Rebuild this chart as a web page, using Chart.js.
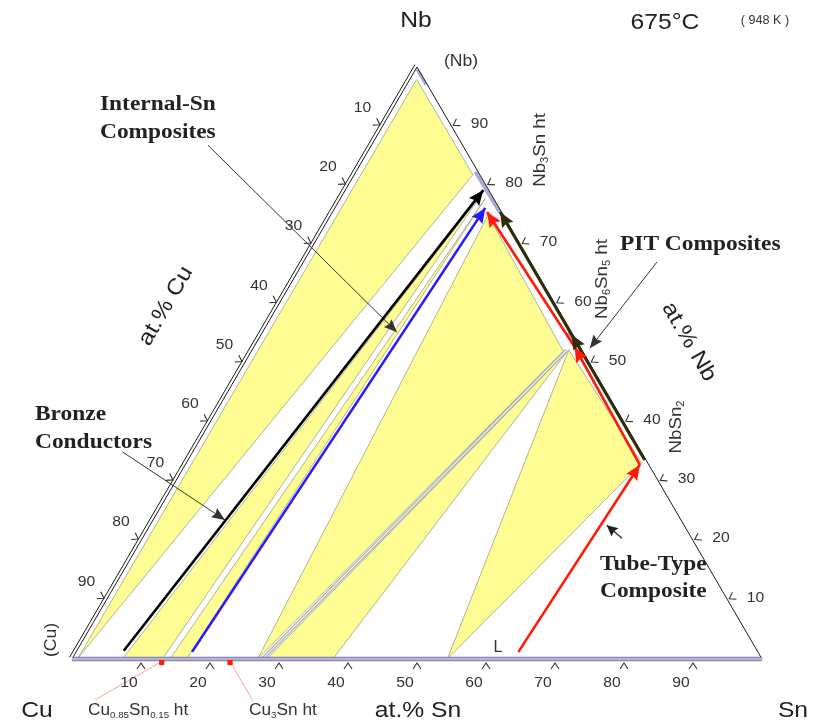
<!DOCTYPE html>
<html>
<head>
<meta charset="utf-8">
<title>Cu-Nb-Sn 675°C</title>
<script src="https://cdn.jsdelivr.net/npm/chart.js@4.4.1/dist/chart.umd.min.js"></script>
<style>
html,body{margin:0;padding:0;background:#ffffff;}
canvas{display:block;}
</style>
</head>
<body>
<canvas id="chart" width="819" height="721"></canvas>
<script>
// ---- Data: compositions as [at.% Sn, at.% Nb]; at.% Cu = 100 - Sn - Nb ----
const tickValues = [10, 20, 30, 40, 50, 60, 70, 80, 90];
const triangleEdge = [[0, 0], [100, 0], [0, 100], [0, 0]];
// phase fields (yellow)
const fieldNbNb3SnCu = [[1.0, 97.9], [17.2, 81.8], [0.8, 0.2]];
const fieldNb3SnCu = [[7.3, 0], [13.1, 0], [20.2, 79.3]];
const fieldNb3SnBronze = [[14.2, 0], [16.6, 0], [21.0, 77.8]];
const fieldNb3SnNb6Sn5 = [[26.9, 0], [22.8, 75.0], [45.2, 52.0]];
const fieldNb6Sn5Cu = [[28.2, 0], [37.8, 0], [45.8, 52.0]];
const fieldNb6Sn5NbSn2L = [[54.4, 0], [45.9, 52.2], [66.0, 33.1]];
const tieLineNb6Sn5 = [[27.6, 0], [45.6, 52.2]];
// single-phase ranges (lavender)
const phaseNb = [[0.2, 99.6], [2.8, 97.0]];
const phaseNb3Sn = [[17.3, 82.3], [24.3, 75.4]];
const phaseNb6Sn5 = [[44.3, 55.2], [46.3, 53.0]];
const phaseCuSnSide = [[0, 0], [100, 0]];
// reaction paths
const pathBronze = [[6.8, 1.4], [20.0, 79.2]];
const pathInternalSn = [[16.8, 1.2], [21.8, 76.2]];
const pathTube = [[64.1, 1.2], [65.9, 32.8]];
const pathPIT = [[65.9, 32.8], [46.5, 52.7], [22.4, 75.5]];
const pathPITEdge = [[66.2, 33.6], [45.0, 54.8], [24.3, 75.5]];
// marked Cu-Sn phases
const bronzePhases = [[13.3, -0.6], [23.2, -0.6]];
// label leaders
const leaderInternalSn = [[-23.7, 86.8], [19.5, 55.2]];
const leaderBronze = [[-10.2, 35.0], [10.4, 23.5]];
const leaderPIT = [[51.25, 67.06], [48.8, 52.5]];
const leaderTube = [[69.5, 20.4], [66.2, 22.6]];
const leaderCu085 = [[13.2, -0.4], [6.8, -6.9]];
const leaderCu3Sn = [[23.1, -0.4], [29.8, -7.1]];

// ---- geometry: ternary -> cartesian (x = Sn + Nb/2, y = Nb) ----
const W = 819, H = 721;
const X0 = 72, PXU = 6.9, Y0 = 659, PYU = 5.92;
const toXY = pts => pts.map(([sn, nb]) => ({x: sn + nb / 2, y: nb}));

const SANS = '"Liberation Sans", Arial, sans-serif';
const SERIF = '"Liberation Serif", "Times New Roman", serif';
const YELLOW = '#fdfd94';
const LAV = '#a9a9d6';

function field(pts) {
  return {data: toXY([...pts, pts[0]]), fill: 'shape', backgroundColor: YELLOW,
    borderColor: '#a0a08c', borderWidth: 0.8, order: 20};
}
function line(pts, color, width, order, extra) {
  return Object.assign({data: toXY(pts), fill: false, borderColor: color, backgroundColor: color,
    borderWidth: width, order: order}, extra || {});
}

const datasets = [
  // arrows / paths (top)
  line(pathBronze, '#000000', 2.6, 1, {heads: [1], headLen: 15, headW: 6.5}),
  line(pathInternalSn, '#2a1aff', 2.6, 1, {heads: [1], headLen: 15, headW: 6.5}),
  line(pathPIT, '#ff1a0a', 2.6, 1, {heads: [1, 2], headLen: 15, headW: 6.5}),
  line(pathTube, '#ff1a0a', 2.6, 1, {heads: [1], headLen: 15, headW: 6.5}),
  line(pathPITEdge, '#2e2e08', 3.0, 2, {heads: [1, 2], headLen: 15, headW: 6.5}),
  line(leaderInternalSn, '#333333', 1, 1, {heads: [1], headLen: 13, headW: 5.5}),
  line(leaderBronze, '#333333', 1, 1, {heads: [1], headLen: 13, headW: 5.5}),
  line(leaderPIT, '#333333', 1, 1, {heads: [1], headLen: 13, headW: 5.5}),
  line(leaderTube, '#222222', 1.2, 1, {heads: [1], headLen: 11, headW: 5.5}),
  line(leaderCu085, '#ff8888', 0.8, 1),
  line(leaderCu3Sn, '#ff8888', 0.8, 1),
  {data: toXY(bronzePhases), showLine: false, pointRadius: 3, pointStyle: 'rect',
    pointBackgroundColor: '#ff1a0a', pointBorderColor: '#ff1a0a', borderColor: '#ff1a0a', order: 0},
  // triangle edges and single-phase ranges
  line(triangleEdge, '#1a1a1a', 1, 6),
  line(phaseCuSnSide, '#7e7eaa', 4.5, 5),
  line(phaseCuSnSide, '#b3b3dc', 2.5, 4),
  line(phaseNb, LAV, 3, 7),
  line(phaseNb3Sn, LAV, 3.5, 7),
  line(phaseNb6Sn5, LAV, 3.5, 7),
  // tie line (double gray)
  line(tieLineNb6Sn5, '#f2f2f2', 1.2, 8),
  line(tieLineNb6Sn5, '#a8a8a8', 3.4, 9),
  // yellow fields
  field(fieldNbNb3SnCu),
  field(fieldNb3SnCu),
  field(fieldNb3SnBronze),
  field(fieldNb3SnNb6Sn5),
  field(fieldNb6Sn5Cu),
  field(fieldNb6Sn5NbSn2L)
];

function drawText(ctx, parts, x, y, o) {
  const size = o.size, fam = o.family || SANS, weight = o.weight || 'normal';
  if (typeof parts === 'string') parts = [[parts, 0]];
  ctx.save();
  ctx.translate(x, y);
  if (o.rot) ctx.rotate(o.rot * Math.PI / 180);
  ctx.scale(o.sx || 1, 1);
  ctx.fillStyle = o.color || '#222222';
  ctx.textBaseline = 'middle';
  ctx.textAlign = 'left';
  const fontOf = sub => `${weight} ${sub ? Math.round(size * 0.58) : size}px ${fam}`;
  let w = 0;
  parts.forEach(([s, sub]) => { ctx.font = fontOf(sub); w += ctx.measureText(s).width; });
  let cx = o.align === 'left' ? 0 : (o.align === 'right' ? -w : -w / 2);
  parts.forEach(([s, sub]) => {
    ctx.font = fontOf(sub);
    ctx.fillText(s, cx, sub ? size * 0.3 : 0);
    cx += ctx.measureText(s).width;
  });
  ctx.restore();
}

function arrowHead(ctx, x, y, ang, len, hw, color) {
  ctx.save();
  ctx.translate(x, y);
  ctx.rotate(ang);
  ctx.beginPath();
  ctx.moveTo(0, 0);
  ctx.lineTo(-len, hw);
  ctx.lineTo(-len * 0.86, 0);
  ctx.lineTo(-len, -hw);
  ctx.closePath();
  ctx.fillStyle = color;
  ctx.fill();
  ctx.restore();
}

const ternaryPlugin = {
  id: 'ternary',
  afterDatasetsDraw(chart) {
    const ctx = chart.ctx;
    const sx = chart.scales.x, sy = chart.scales.y;
    const P = (sn, nb) => ({x: sx.getPixelForValue(sn + nb / 2), y: sy.getPixelForValue(nb)});

    // arrowheads
    chart.data.datasets.forEach((ds, i) => {
      if (!ds.heads) return;
      const meta = chart.getDatasetMeta(i);
      ds.heads.forEach(k => {
        const a = meta.data[k - 1], b = meta.data[k];
        arrowHead(ctx, b.x, b.y, Math.atan2(b.y - a.y, b.x - a.x), ds.headLen, ds.headW, ds.borderColor);
      });
    });

    // outer Cu axis line (parallel to the Cu-Nb side)
    ctx.save();
    ctx.strokeStyle = '#1a1a1a';
    ctx.lineWidth = 1;
    const o1 = P(-0.5, 0.3), o2 = P(-0.5, 100.4);
    ctx.beginPath(); ctx.moveTo(o1.x, o1.y); ctx.lineTo(o2.x, o2.y); ctx.stroke();

    // ticks: chevrons pointing into the triangle
    const chevron = (p, nx, ny, off) => {
      const ax = p.x + nx * off, ay = p.y + ny * off;
      const px = -ny, py = nx;
      ctx.beginPath();
      ctx.moveTo(ax + nx * 6 + px * 4, ay + ny * 6 + py * 4);
      ctx.lineTo(ax, ay);
      ctx.lineTo(ax + nx * 6 - px * 4, ay + ny * 6 - py * 4);
      ctx.stroke();
    };
    ctx.strokeStyle = '#333333';
    ctx.lineWidth = 1.1;
    const s3 = Math.sqrt(3) / 2;
    tickValues.forEach(t => {
      // at.% Sn (bottom)
      const pb = P(t, 0);
      chevron(pb, 0, 1, 4);
      drawText(ctx, String(t), pb.x - 12, pb.y + 24, {size: 14, sx: 1.12, color: '#333333'});
      // at.% Cu (left side)
      const pl = P(0, 100 - t);
      chevron(pl, -s3, -0.5, 3);
      drawText(ctx, String(t), pl.x - 20, pl.y - 18, {size: 14, sx: 1.12, color: '#333333'});
      // at.% Nb (right side)
      const pr = P(100 - t, t);
      chevron(pr, s3, -0.5, 2);
      drawText(ctx, String(t), pr.x + 28, pr.y - 2, {size: 14, sx: 1.12, color: '#333333'});
    });
    ctx.restore();

    // labels
    const big = {size: 22, sx: 1.12, color: '#222222'};
    drawText(ctx, 'Nb', 416, 21, big);
    drawText(ctx, 'Cu', 37, 711, big);
    drawText(ctx, 'Sn', 793, 711, big);
    drawText(ctx, '675°C', 665, 23, big);
    drawText(ctx, '( 948 K )', 765, 21, {size: 12, sx: 1.05, color: '#333333'});
    drawText(ctx, 'at.% Sn', 418, 711, big);
    drawText(ctx, 'at.% Cu', 166, 306, Object.assign({rot: -60}, big));
    drawText(ctx, 'at.% Nb', 689, 342, Object.assign({rot: 60}, big));
    drawText(ctx, '(Nb)', 461, 62, {size: 16, sx: 1.1, color: '#333333'});
    drawText(ctx, '(Cu)', 52, 640, {size: 16, sx: 1.1, rot: -90, color: '#333333'});
    drawText(ctx, 'L', 498, 648, {size: 16, color: '#333333'});
    const ph = {size: 17, sx: 1.1, rot: -90, color: '#333333'};
    drawText(ctx, [['Nb', 0], ['3', 1], ['Sn ht', 0]], 540, 150, ph);
    drawText(ctx, [['Nb', 0], ['6', 1], ['Sn', 0], ['5', 1], [' ht', 0]], 602, 279, ph);
    drawText(ctx, [['NbSn', 0], ['2', 1]], 676, 427, ph);
    const bl = {size: 16, sx: 1.08, align: 'left', color: '#333333'};
    drawText(ctx, [['Cu', 0], ['0.85', 1], ['Sn', 0], ['0.15', 1], [' ht', 0]], 88, 711, bl);
    drawText(ctx, [['Cu', 0], ['3', 1], ['Sn ht', 0]], 249, 711, bl);

    const note = {size: 20, sx: 1.17, family: SERIF, weight: 'bold', align: 'left', color: '#222222'};
    drawText(ctx, 'Internal-Sn', 100, 105, note);
    drawText(ctx, 'Composites', 100, 133, note);
    drawText(ctx, 'Bronze', 35, 415, note);
    drawText(ctx, 'Conductors', 35, 443, note);
    drawText(ctx, 'PIT Composites', 620, 245, note);
    drawText(ctx, 'Tube-Type', 600, 565, note);
    drawText(ctx, 'Composite', 600, 592, note);
  }
};

new Chart(document.getElementById('chart'), {
  type: 'line',
  data: {datasets: datasets},
  options: {
    responsive: false,
    animation: false,
    devicePixelRatio: 1,
    layout: {padding: 0, autoPadding: false},
    elements: {point: {radius: 0, hoverRadius: 0}, line: {tension: 0}},
    clip: false,
    plugins: {legend: {display: false}, tooltip: {enabled: false}, title: {display: false}},
    scales: {
      x: {type: 'linear', display: false, min: -X0 / PXU, max: (W - X0) / PXU},
      y: {type: 'linear', display: false, min: -(H - Y0) / PYU, max: Y0 / PYU}
    },
    events: []
  },
  plugins: [ternaryPlugin]
});
</script>
</body>
</html>
